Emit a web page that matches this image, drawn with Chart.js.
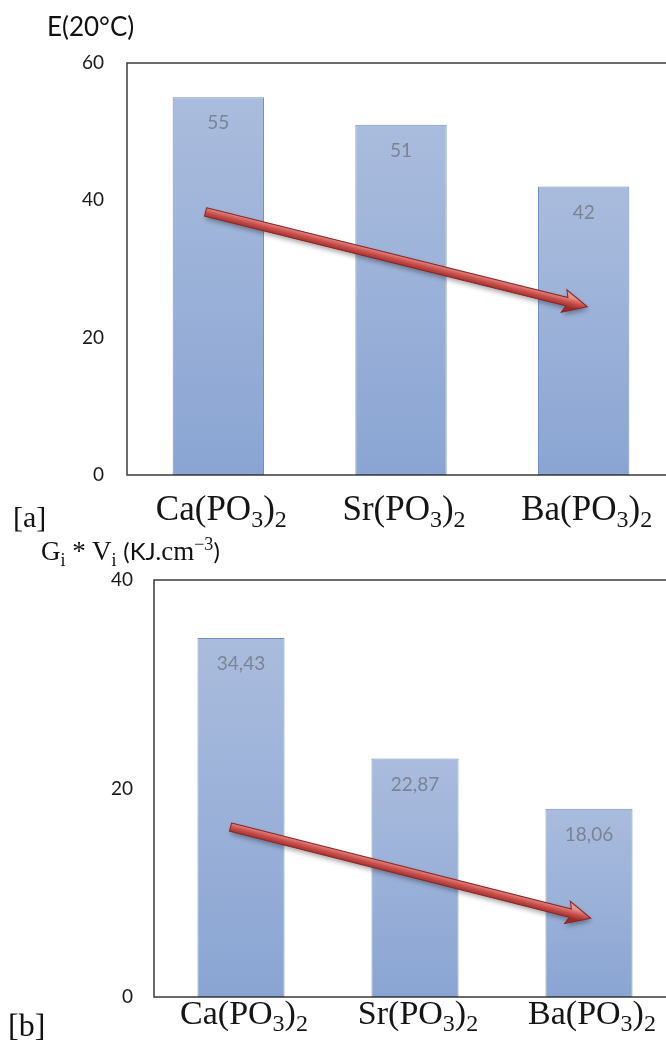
<!DOCTYPE html>
<html><head><meta charset="utf-8">
<script src="https://cdn.jsdelivr.net/npm/chart.js@4/dist/chart.umd.min.js"></script>
<style>
html,body{margin:0;padding:0;width:666px;height:1043px;overflow:hidden;background:#fff;}
#wrap{position:relative;width:666px;height:1043px;overflow:hidden;}
canvas{position:absolute;left:0;}
#ca{top:0;width:700px;height:540px;}
#cb{top:520px;width:700px;height:523px;}
.lbl{position:absolute;white-space:nowrap;color:#111;line-height:1;}
#ta{left:47px;top:10px;font:26px Lato, sans-serif;}
#tb{left:41px;top:536px;font:27px 'Liberation Serif', serif;}
#tb sub,#tb sup{font-size:18px;line-height:0;}
#tb .s{font-family:Lato, sans-serif;font-size:24px;}
#la{left:13px;top:500px;font:30px 'Liberation Serif', serif;}
#lb{left:8px;top:1007px;font:32px 'Liberation Serif', serif;}
</style></head>
<body><div id="wrap">
<canvas id="ca" width="700" height="540"></canvas>
<canvas id="cb" width="700" height="523"></canvas>
<div class="lbl" id="ta">E(20°C)</div>
<div class="lbl" id="tb">G<sub>i</sub> * V<sub>i</sub> <span class="s">(KJ.</span>cm<sup>−3</sup><span class="s">)</span></div>
<div class="lbl" id="la">[a]</div>
<div class="lbl" id="lb">[b]</div>
</div>
<script>
// ---- data ----
const categories = ['Ca(PO3)2', 'Sr(PO3)2', 'Ba(PO3)2'];
const energyValues = [55, 51, 42];
const giViValues = [34.43, 22.87, 18.06];
const energyTicks = [0, 20, 40, 60];
const giViTicks = [0, 20, 40];
// trend arrows in data space: [categoryIndex, value]
const energyTrend = [[-0.07, 38.3], [2.02, 24.5]];
const giViTrend = [[-0.06, 16.3], [2.01, 7.55]];

function drawArrow(ctx, x1, y1, x2, y2) {
  const ang = Math.atan2(y2 - y1, x2 - x1);
  const L = Math.hypot(x2 - x1, y2 - y1);
  const sw = 4.3, hl = 21, hw = 11.5;
  ctx.save();
  ctx.translate(x1, y1);
  ctx.rotate(ang);
  ctx.beginPath();
  ctx.moveTo(0, -sw);
  ctx.lineTo(L - hl, -sw);
  ctx.lineTo(L - hl - 3, -hw);
  ctx.lineTo(L, 0);
  ctx.lineTo(L - hl - 3, hw);
  ctx.lineTo(L - hl, sw);
  ctx.lineTo(0, sw);
  ctx.closePath();
  const g = ctx.createLinearGradient(0, -sw - 1, 0, sw + 1);
  g.addColorStop(0, '#e9928e');
  g.addColorStop(0.5, '#c9504c');
  g.addColorStop(1, '#9a2b28');
  ctx.shadowColor = 'rgba(0,0,0,0.35)';
  ctx.shadowBlur = 5;
  ctx.shadowOffsetX = 1;
  ctx.shadowOffsetY = 3;
  ctx.fillStyle = g;
  ctx.fill();
  ctx.shadowColor = 'transparent';
  ctx.lineWidth = 1;
  ctx.strokeStyle = '#8a2624';
  ctx.stroke();
  ctx.restore();
}

const framePlugin = {
  id: 'frame',
  afterDatasetsDraw(chart) {
    const {ctx, chartArea: a} = chart;
    ctx.save();
    ctx.strokeStyle = '#3a3a3a';
    ctx.lineWidth = 1.5;
    ctx.strokeRect(a.left, a.top, a.right - a.left, a.bottom - a.top);
    ctx.restore();
  }
};

const labelPlugin = {
  id: 'valLabels',
  afterDatasetsDraw(chart) {
    const {ctx} = chart;
    const meta = chart.getDatasetMeta(0);
    const vals = chart.data.datasets[0].data;
    ctx.save();
    ctx.font = '19px Lato, sans-serif';
    ctx.fillStyle = '#7a8494';
    ctx.textAlign = 'center';
    ctx.textBaseline = 'middle';
    meta.data.forEach((el, i) => {
      ctx.fillText(String(vals[i]).replace('.', ','), el.x, el.y + 26);
    });
    ctx.restore();
  }
};

// category labels with true subscripts, placed on the x scale's tick pixels
const catLabelPlugin = {
  id: 'catLabels',
  afterDraw(chart, args, o) {
    const {ctx} = chart;
    const xs = chart.scales.x;
    const main = o.size, sub = o.sub, fam = "'Liberation Serif', 'DejaVu Serif', serif";
    const baseY = chart.chartArea.bottom + o.base;
    ctx.save();
    ctx.fillStyle = '#151515';
    ctx.textBaseline = 'alphabetic';
    ctx.textAlign = 'left';
    xs.ticks.forEach((t, i) => {
      const label = chart.data.labels[i];
      const parts = label.split(/(\d)/).filter(p => p.length);
      const pieces = parts.map(p => ({text: p, isSub: /^\d$/.test(p)}));
      let w = 0;
      pieces.forEach(p => {
        ctx.font = (p.isSub ? sub : main) + 'px ' + fam;
        p.w = ctx.measureText(p.text).width;
        w += p.w;
      });
      let x = xs.getPixelForTick(i) - w / 2 + o.shift;
      pieces.forEach(p => {
        ctx.font = (p.isSub ? sub : main) + 'px ' + fam;
        ctx.fillText(p.text, x, baseY + (p.isSub ? main * 0.2 : 0));
        x += p.w;
      });
    });
    ctx.restore();
  }
};

const arrowPlugin = {
  id: 'trendArrow',
  afterDatasetsDraw(chart, args, opts) {
    const t = opts.points;
    if (!t) return;
    const xs = chart.scales.x, ys = chart.scales.y;
    drawArrow(chart.ctx,
      xs.getPixelForValue(t[0][0]), ys.getPixelForValue(t[0][1]),
      xs.getPixelForValue(t[1][0]), ys.getPixelForValue(t[1][1]));
  }
};

function barFill(ctx) {
  const chart = ctx.chart;
  const ys = chart.scales.y;
  if (!ys || ctx.raw === undefined) return '#97afd8';
  const top = ys.getPixelForValue(ctx.raw);
  const bot = ys.getPixelForValue(0);
  if (!isFinite(top) || !isFinite(bot) || top === bot) return '#97afd8';
  const g = chart.ctx.createLinearGradient(0, top, 0, bot);
  g.addColorStop(0, '#aabcdd');
  g.addColorStop(1, '#8aa5d3');
  return g;
}

function makeChart(id, values, ticks, trend, o) {
  return new Chart(document.getElementById(id), {
    type: 'bar',
    data: {
      labels: categories,
      datasets: [{
        data: values,
        backgroundColor: barFill,
        borderColor: 'rgba(90,125,185,0.85)',
        borderWidth: 1,
        borderSkipped: false,
        barPercentage: 0.5,
        categoryPercentage: 1
      }]
    },
    options: {
      responsive: false,
      animation: false,
      devicePixelRatio: 1,
      layout: {padding: {top: o.padTop, right: o.padRight, left: 0, bottom: 0}},
      plugins: {
        legend: {display: false},
        tooltip: {enabled: false},
        title: {display: false},
        trendArrow: {points: trend},
        catLabels: {size: o.xFont, sub: o.xSub, base: o.xBase, shift: 3}
      },
      scales: {
        x: {
          type: 'category',
          offset: true,
          grid: {display: false, drawTicks: false},
          border: {display: false},
          ticks: {display: false},
          afterFit(s) { s.height = o.xHeight; }
        },
        y: {
          min: ticks[0],
          max: ticks[ticks.length - 1],
          grid: {display: false, drawTicks: false},
          border: {display: false},
          afterBuildTicks(s) { s.ticks = ticks.map(v => ({value: v})); },
          ticks: {
            font: {family: 'Lato, sans-serif', size: 19},
            color: '#1a1a1a',
            padding: o.yPad
          },
          afterFit(s) { s.width = o.yWidth; }
        }
      }
    },
    plugins: [framePlugin, labelPlugin, arrowPlugin, catLabelPlugin]
  });
}

makeChart('ca', energyValues, energyTicks, energyTrend,
  {padTop: 63, padRight: 25, yWidth: 127, xHeight: 65, xFont: 35, xSub: 24, xBase: 45, yPad: 23});
makeChart('cb', giViValues, giViTicks, giViTrend,
  {padTop: 60, padRight: 24, yWidth: 154, xHeight: 46, xFont: 34, xSub: 24, xBase: 27, yPad: 21});
</script>
</body></html>
